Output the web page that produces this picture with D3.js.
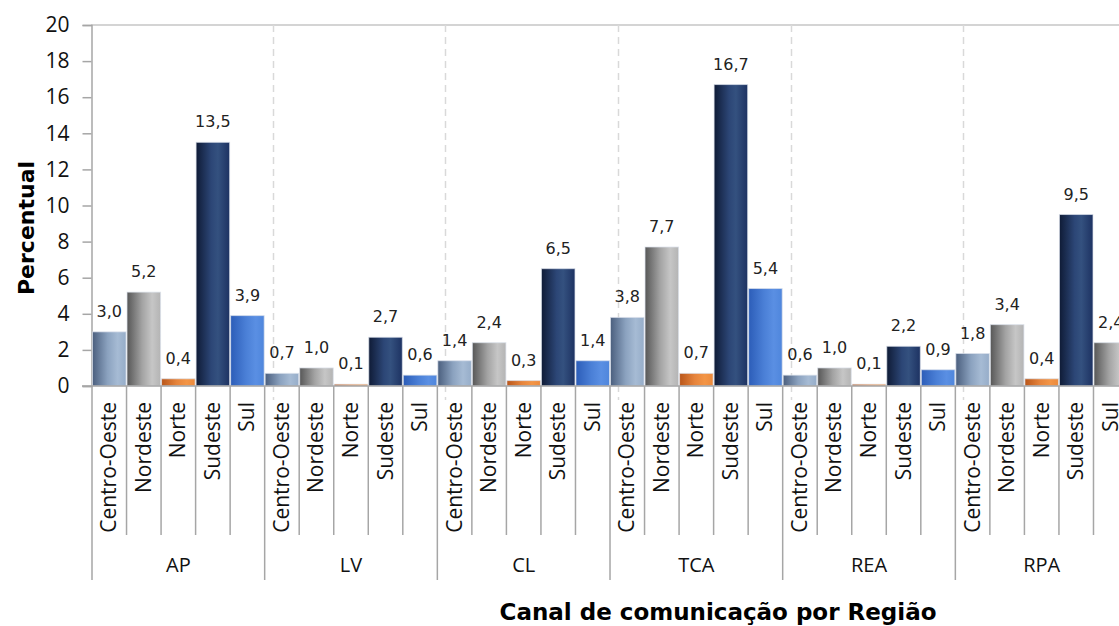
<!DOCTYPE html>
<html>
<head>
<meta charset="utf-8">
<script src="https://cdn.jsdelivr.net/npm/d3@7"></script>
<style>
  body { margin: 0; background: #fff; }
  svg { display: block; }
</style>
</head>
<body>
<div id="chart"></div>
<script>
// canal de comunicacao (grupos) e regioes (barras)
var channels = ["AP", "LV", "CL", "TCA", "REA", "RPA"];
var regions = ["Centro-Oeste", "Nordeste", "Norte", "Sudeste", "Sul"];

// percentual por regiao, na ordem de channels
var centroOeste = [3.0, 0.7, 1.4, 3.8, 0.6, 1.8];
var nordeste = [5.2, 1.0, 2.4, 7.7, 1.0, 3.4];
var norte = [0.4, 0.1, 0.3, 0.7, 0.1, 0.4];
var sudeste = [13.5, 2.7, 6.5, 16.7, 2.2, 9.5];
var sul = [3.9, 0.6, 1.4, 5.4, 0.9, 2.4];

var yTicks = [0, 2, 4, 6, 8, 10, 12, 14, 16, 18, 20];

var seriesValues = [centroOeste, nordeste, norte, sudeste, sul];

var width = 1119,
    height = 626,
    plotLeft = 92,
    plotTop = 25,
    plotBottom = 386,
    groupWidth = 172.67;

var svg = d3.select("#chart").append("svg")
    .attr("width", width)
    .attr("height", height);

// gradientes horizontais, estilo Excel
var gradients = [
    { id: "g-co", stops: [[0, "#4b5f7e"], [0.45, "#8ba2bf"], [0.75, "#a6bbd4"], [1, "#96adc9"]] },
    { id: "g-ne", stops: [[0, "#575757"], [0.45, "#a3a3a3"], [0.75, "#c6c6c6"], [1, "#b4b4b4"]] },
    { id: "g-no", stops: [[0, "#b9561a"], [0.45, "#e6843c"], [0.75, "#f39546"], [1, "#ec8a3c"]] },
    { id: "g-se", stops: [[0, "#0f1b36"], [0.45, "#2c4676"], [0.65, "#34517f"], [1, "#1d3262"]] },
    { id: "g-su", stops: [[0, "#2c5db8"], [0.45, "#4a7fd6"], [0.75, "#5a8fe3"], [1, "#4f86dc"]] }
];

var defs = svg.append("defs");
gradients.forEach(function (g) {
    var lg = defs.append("linearGradient")
        .attr("id", g.id)
        .attr("x1", "0%").attr("x2", "100%")
        .attr("y1", "0%").attr("y2", "0%");
    g.stops.forEach(function (s) {
        lg.append("stop").attr("offset", s[0]).attr("stop-color", s[1]);
    });
});

// no original a barra Sul de RPA aparece cinza
var colorOverride = { "RPA|Sul": "g-ne" };

var x = d3.scaleBand()
    .domain(channels)
    .range([plotLeft, plotLeft + groupWidth * channels.length]);

var xInner = d3.scaleBand()
    .domain(regions)
    .range([0, x.bandwidth()]);

var y = d3.scaleLinear()
    .domain([0, 20])
    .range([plotBottom, plotTop]);

// borda superior da area de plotagem
svg.append("line")
    .attr("x1", plotLeft - 1).attr("x2", width)
    .attr("y1", y(20)).attr("y2", y(20))
    .style("stroke", "#d4d4d4")
    .style("stroke-width", 2);

// eixo y
var yAxis = svg.append("g")
    .attr("transform", "translate(" + (plotLeft - 0.5) + ",0)")
    .call(d3.axisLeft(y).tickValues(yTicks).tickSize(9).tickPadding(13)
        .tickFormat(function (d) { return d; }));

yAxis.select(".domain").style("stroke", "#a6a6a6").style("stroke-width", 1.5);
yAxis.selectAll(".tick line").style("stroke", "#a6a6a6").style("stroke-width", 1.5);
yAxis.selectAll(".tick text")
    .style("font-family", "'Open Sans', sans-serif")
    .style("font-size", "21px")
    .style("fill", "#111");

// linhas verticais tracejadas
svg.append("g").selectAll("line")
    .data(channels.slice(1))
    .enter().append("line")
    .attr("x1", function (d) { return Math.round(x(d)) + 8.5; })
    .attr("x2", function (d) { return Math.round(x(d)) + 8.5; })
    .attr("y1", y(20))
    .attr("y2", plotBottom + 14)
    .style("stroke", "#d9d9d9")
    .style("stroke-width", 1.5)
    .style("stroke-dasharray", "7,5");

// barras
var rows = [];
channels.forEach(function (c, i) {
    regions.forEach(function (r, j) {
        rows.push({ channel: c, region: r, ri: j, value: seriesValues[j][i] });
    });
});

var bars = svg.append("g").selectAll(".bar")
    .data(rows)
    .enter().append("g")
    .attr("class", "bar")
    .attr("transform", function (d) { return "translate(" + (x(d.channel) + xInner(d.region)) + ",0)"; });

bars.append("rect")
    .attr("x", 0.5)
    .attr("y", function (d) { return y(d.value); })
    .attr("width", xInner.bandwidth() - 1)
    .attr("height", function (d) { return plotBottom - y(d.value); })
    .style("fill", function (d) {
        var id = colorOverride[d.channel + "|" + d.region] || gradients[d.ri].id;
        return "url(#" + id + ")";
    })
    .style("stroke", "rgba(220,225,235,0.7)")
    .style("stroke-width", 1);

bars.append("text")
    .attr("x", xInner.bandwidth() / 2)
    .attr("y", function (d) { return y(d.value) - 15; })
    .attr("text-anchor", "middle")
    .style("font-family", "'DejaVu Sans', Verdana, sans-serif")
    .style("font-size", "16px")
    .style("fill", "#222")
    .text(function (d) { return d3.format(".1f")(d.value).replace(".", ","); });

// eixo de categorias (duas linhas)
var axisColor = "#a6a6a6";
var catAxis = svg.append("g");

catAxis.append("line")
    .attr("x1", plotLeft - 10).attr("x2", width)
    .attr("y1", plotBottom).attr("y2", plotBottom)
    .style("stroke", axisColor)
    .style("stroke-width", 1.5);

var groups = catAxis.selectAll(".group")
    .data(channels)
    .enter().append("g")
    .attr("class", "group")
    .attr("transform", function (d) { return "translate(" + x(d) + ",0)"; });

groups.append("line")
    .attr("x1", 0).attr("x2", 0)
    .attr("y1", plotBottom).attr("y2", 580)
    .style("stroke", axisColor)
    .style("stroke-width", 1.5);

groups.selectAll(".sep")
    .data(regions.slice(1))
    .enter().append("line")
    .attr("class", "sep")
    .attr("x1", function (d) { return xInner(d); })
    .attr("x2", function (d) { return xInner(d); })
    .attr("y1", plotBottom).attr("y2", 535)
    .style("stroke", axisColor)
    .style("stroke-width", 1.5);

groups.selectAll(".cat")
    .data(regions)
    .enter().append("text")
    .attr("class", "cat")
    .attr("transform", function (d) {
        return "translate(" + (xInner(d) + xInner.bandwidth() / 2 + 7) + ",402) rotate(-90)";
    })
    .attr("text-anchor", "end")
    .style("font-family", "'Open Sans', sans-serif")
    .style("font-size", "21px")
    .style("fill", "#111")
    .text(function (d) { return d; });

groups.append("text")
    .attr("x", x.bandwidth() / 2)
    .attr("y", 572)
    .attr("text-anchor", "middle")
    .style("font-family", "'Open Sans', sans-serif")
    .style("font-size", "20px")
    .style("fill", "#111")
    .text(function (d) { return d; });

// linha final de RPA
catAxis.append("line")
    .attr("x1", x.range()[1]).attr("x2", x.range()[1])
    .attr("y1", plotBottom).attr("y2", 580)
    .style("stroke", axisColor)
    .style("stroke-width", 1.5);

// titulos
svg.append("text")
    .attr("transform", "translate(34,228) rotate(-90)")
    .attr("text-anchor", "middle")
    .style("font-family", "'DejaVu Sans', Verdana, sans-serif")
    .style("font-weight", "bold")
    .style("font-size", "22px")
    .style("fill", "#000")
    .text("Percentual");

svg.append("text")
    .attr("x", 718)
    .attr("y", 620)
    .attr("text-anchor", "middle")
    .style("font-family", "'DejaVu Sans', Verdana, sans-serif")
    .style("font-weight", "bold")
    .style("font-size", "23px")
    .style("fill", "#000")
    .text("Canal de comunicação por Região");
</script>
</body>
</html>
